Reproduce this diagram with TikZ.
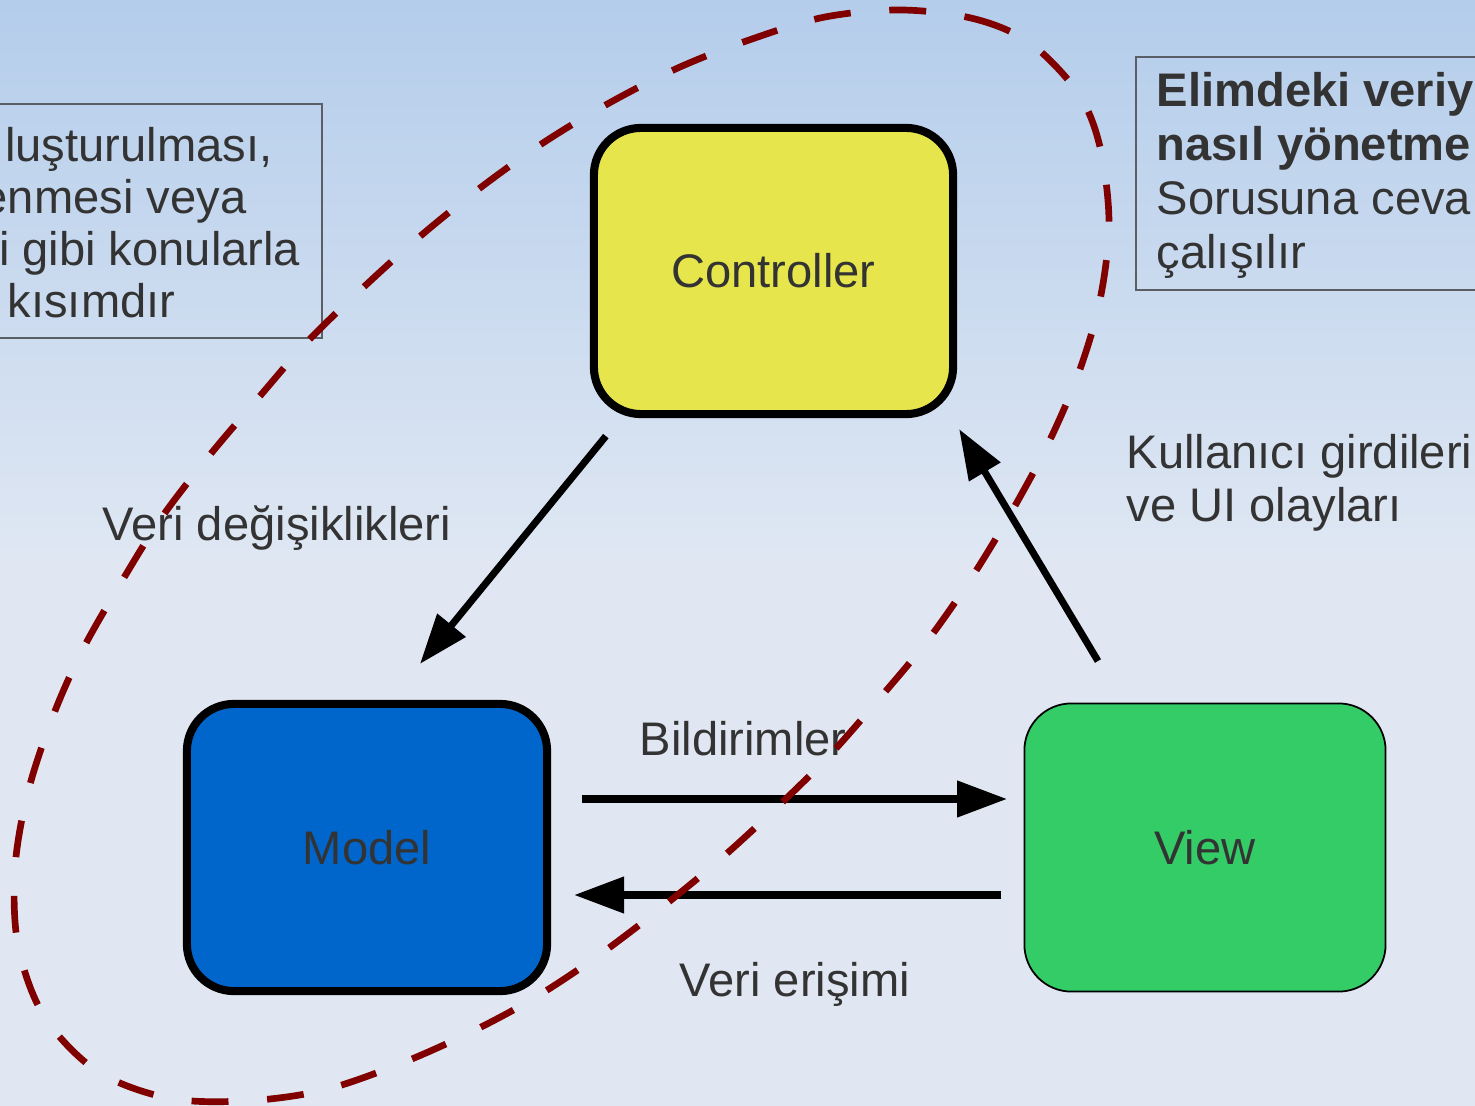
\documentclass[tikz,border=0pt]{standalone}
\usepackage{fontspec}
\setmainfont{Liberation Sans}
\usetikzlibrary{arrows.meta}

\definecolor{bgtop}{HTML}{B4CDEB}
\definecolor{bgmid}{HTML}{DFE7F3}
\definecolor{bgbot}{HTML}{E0E7F2}
\definecolor{ctrlyellow}{HTML}{E6E64C}
\definecolor{modelblue}{HTML}{0066CC}
\definecolor{viewgreen}{HTML}{33CC66}
\definecolor{loopred}{HTML}{800000}
\definecolor{textgray}{HTML}{333333}
\definecolor{framegray}{HTML}{5A5F66}

\tikzset{
  mvcbox/.style={draw=black, rounded corners=0.47cm, inner sep=0pt,
    text=textgray, font=\fontsize{13.4pt}{16pt}\selectfont},
  lbl/.style={inner sep=0pt, text=textgray,
    font=\fontsize{13.4pt}{16pt}\selectfont},
  boldlbl/.style={lbl, font=\fontsize{13.4pt}{16pt}\selectfont\bfseries},
  notebox/.style={draw=framegray, line width=0.45pt},
  flow/.style={draw=black, line width=2pt,
    -{Triangle[length=14.2pt,width=10pt]}},
  scopeloop/.style={draw=loopred, line width=1.9pt,
    dash pattern=on 10.5pt off 11pt}
}

\begin{document}
\begin{tikzpicture}[x=0.01cm, y=-0.01cm]
  \useasboundingbox (0,0) rectangle (1475,1106);
  \clip (0,0) rectangle (1475,1106);

  % background
  \shade[top color=bgtop, bottom color=bgmid] (0,0) rectangle (1475,560);
  \fill[bgbot] (0,559) rectangle (1475,1106);

  % note frames
  \draw[notebox] (-10,104) rectangle (322,338);
  \draw[notebox] (1136,57) rectangle (1490,290);

  % left note
  \node[lbl, anchor=base east] (ln1) at (273,161) {luşturulması,};
  \node[lbl, anchor=base east] (ln2) at (247,213) {enmesi veya};
  \node[lbl, anchor=base east] (ln3) at (301,265) {i gibi konularla};
  \node[lbl, anchor=base east] (ln4) at (176,317) {kısımdır};

  % right note
  \node[boldlbl, anchor=base west] (rn1) at (1156,106) {Elimdeki veriy};
  \node[boldlbl, anchor=base west] (rn2) at (1156,160) {nasıl yönetme};
  \node[lbl, anchor=base west] (rn3) at (1156,214) {Sorusuna ceva};
  \node[lbl, anchor=base west] (rn4) at (1156,268) {çalışılır};

  % the three components
  \node[mvcbox, fill=ctrlyellow, line width=2.3pt,
        minimum width=3.59cm, minimum height=2.86cm] (ctrl) at (773.5,271) {Controller};
  \node[mvcbox, fill=modelblue, line width=2.3pt,
        minimum width=3.60cm, minimum height=2.87cm] (model) at (367,847.5) {Model};
  \node[mvcbox, fill=viewgreen, line width=0.5pt,
        minimum width=3.61cm, minimum height=2.88cm] (view) at (1205,847.5) {View};

  % connectors
  \draw[flow] ([shift={(16,18)}]ctrl.south west) -- ([shift={(53,-36)}]model.north);
  \draw[flow] ([shift={(31,-48.5)}]model.east) -- ([shift={(-16.5,-48.5)}]view.west);
  \draw[flow] ([shift={(-22.5,47.5)}]view.west) -- ([shift={(23,47.5)}]model.east);
  \draw[flow] ([shift={(-107,-41.5)}]view.north) -- ([shift={(2,11)}]ctrl.south east);

  % connector labels
  \node[lbl, anchor=base west] (lchg) at (102,540) {Veri değişiklikleri};
  \node[lbl, anchor=base west] (lnot) at (639,755) {Bildirimler};
  \node[lbl, anchor=base west] (lacc) at (679,996) {Veri erişimi};
  \node[lbl, anchor=base west] (lin1) at (1126,468) {Kullanıcı girdileri};
  \node[lbl, anchor=base west] (lin2) at (1126,521) {ve UI olayları};

  % dashed boundary around model and controller
  \draw[scopeloop] plot[smooth cycle, tension=0.55] coordinates {
    (902,10) (975,19) (1030,43) (1078,93) (1100,147) (1109,223) (1100,300)
    (1079,372) (1048,444) (1012,511) (972,577) (928,640) (879,699) (828,757)
    (772,812) (716,863) (656,912) (595,958) (531,1000) (463,1036) (392,1067)
    (320,1091) (244,1101) (168,1098) (97,1071) (44,1016) (18,945) (15,868)
    (28,792) (53,716) (83,649) (122,581) (162,517) (209,456) (260,396)
    (308,341) (367,284) (424,233) (484,185) (546,141) (611,102) (680,67)
    (752,39) (825,17)};
\end{tikzpicture}
\end{document}
